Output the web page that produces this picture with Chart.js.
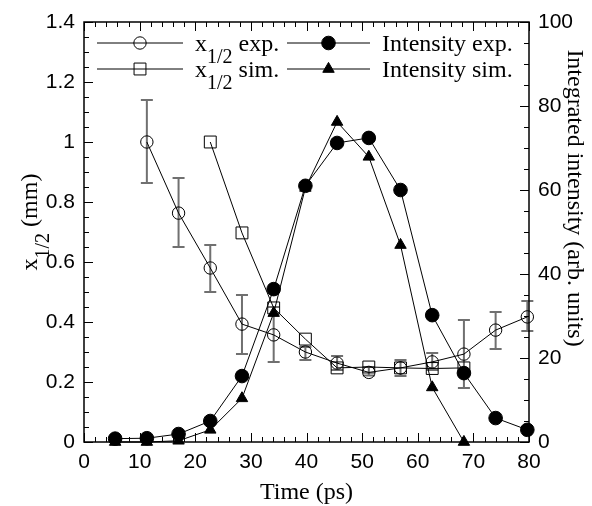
<!DOCTYPE html>
<html>
<head>
<meta charset="utf-8">
<script src="https://cdn.jsdelivr.net/npm/chart.js@4.4.1/dist/chart.umd.min.js"></script>
<style>
  html, body { margin: 0; padding: 0; background: #fff; }
  canvas { display: block; }
</style>
</head>
<body>
<canvas id="chart" width="592" height="506"></canvas>
<script>
// delay times (ps)
const times = [5.6, 11.3, 17.0, 22.7, 28.4, 34.1, 39.8, 45.5, 51.2, 56.9, 62.6, 68.3, 74.0, 79.7]

// x_1/2 (mm), left axis
const xHalfExp = [null, 1.00, 0.763, 0.58, 0.393, 0.357, 0.30, 0.263, 0.232, 0.247, 0.267, 0.293, 0.373, 0.417]
const xHalfErrLow = [null, 0.863, 0.65, 0.50, 0.293, 0.267, 0.273, 0.24, 0.222, 0.22, 0.24, 0.18, 0.31, 0.37]
const xHalfErrHigh = [null, 1.14, 0.88, 0.657, 0.49, 0.45, 0.317, 0.287, 0.25, 0.273, 0.297, 0.407, 0.433, 0.47]
const xHalfSim = [null, null, null, 1.00, 0.697, 0.447, 0.343, 0.247, 0.25, 0.247, 0.245, 0.247, null, null]

// integrated intensity (arb. units), right axis
const intensityExp = [0.8, 0.9, 1.9, 5.0, 15.7, 36.4, 61.0, 71.2, 72.4, 60.0, 30.2, 16.4, 5.7, 2.9]
const intensitySim = [0, 0, 0.3, 2.9, 10.4, 30.7, 60.5, 76.2, 67.9, 46.9, 13.0, 0, null, null]

const xTicks = [0, 10, 20, 30, 40, 50, 60, 70, 80]
const leftTicks = [0, 0.2, 0.4, 0.6, 0.8, 1, 1.2, 1.4]
const rightTicks = [0, 20, 40, 60, 80, 100]

const SERIF = '"Liberation Serif", "DejaVu Serif", serif'
const SANS = '"Liberation Sans", Arial, sans-serif'

const pts = arr => times.map((t, i) => ({ x: t, y: arr[i] })).filter(p => p.y !== null)

const series = (data, axis, style, radius, fill) => ({
  data: pts(data),
  yAxisID: axis,
  borderColor: '#000',
  borderWidth: 1,
  pointStyle: style,
  pointRadius: radius,
  pointBorderWidth: 1,
  pointBorderColor: '#000',
  pointBackgroundColor: fill,
  backgroundColor: fill,
  tension: 0,
  fill: false,
  clip: false
})

const datasets = [
  series(intensityExp, 'y2', 'circle', 6.8, '#000'),
  series(intensitySim, 'y2', 'triangle', 6.6, '#000'),
  series(xHalfExp, 'y', 'circle', 6.2, 'rgba(0,0,0,0)'),
  series(xHalfSim, 'y', 'rect', 8.4, 'rgba(0,0,0,0)')
]

// text with subscript parts, drawn left to right from (x, y)
const drawParts = (ctx, x, y, parts) => {
  let cx = x
  parts.forEach(p => {
    ctx.font = p.size + 'px ' + SERIF
    ctx.fillText(p.text, cx, y + (p.dy || 0))
    cx += ctx.measureText(p.text).width
  })
  return cx
}
const partsWidth = (ctx, parts) => parts.reduce((w, p) => {
  ctx.font = p.size + 'px ' + SERIF
  return w + ctx.measureText(p.text).width
}, 0)

const errorBars = {
  id: 'errorBars',
  beforeDatasetsDraw (chart) {
    const { ctx, scales: { x, y } } = chart
    ctx.save()
    ctx.strokeStyle = '#707070'
    ctx.lineWidth = 2
    times.forEach((t, i) => {
      if (xHalfErrLow[i] === null) return
      const px = x.getPixelForValue(t)
      const lo = y.getPixelForValue(xHalfErrLow[i])
      const hi = y.getPixelForValue(xHalfErrHigh[i])
      ctx.beginPath()
      ctx.moveTo(px, lo); ctx.lineTo(px, hi)
      ctx.moveTo(px - 6, lo); ctx.lineTo(px + 6, lo)
      ctx.moveTo(px - 6, hi); ctx.lineTo(px + 6, hi)
      ctx.stroke()
    })
    ctx.restore()
  }
}

const frame = {
  id: 'frame',
  afterDatasetsDraw (chart) {
    const { ctx, chartArea: a, scales: { x, y, y2 } } = chart
    ctx.save()
    ctx.strokeStyle = '#000'
    ctx.lineWidth = 1.5
    ctx.strokeRect(a.left, a.top, a.right - a.left, a.bottom - a.top)
    ctx.lineWidth = 1
    ctx.beginPath()
    for (let v = 0; v <= 80; v += 2) {
      const px = Math.round(x.getPixelForValue(v)) + 0.5
      const len = v % 10 === 0 ? 9 : 5
      ctx.moveTo(px, a.bottom); ctx.lineTo(px, a.bottom - len)
      ctx.moveTo(px, a.top); ctx.lineTo(px, a.top + len)
    }
    for (let i = 0; i <= 28; i++) {
      const py = Math.round(y.getPixelForValue(i * 0.05)) + 0.5
      const len = i % 4 === 0 ? 9 : 5
      ctx.moveTo(a.left, py); ctx.lineTo(a.left + len, py)
    }
    for (let v = 0; v <= 100; v += 5) {
      const py = Math.round(y2.getPixelForValue(v)) + 0.5
      const len = v % 20 === 0 ? 9 : 5
      ctx.moveTo(a.right, py); ctx.lineTo(a.right - len, py)
    }
    ctx.stroke()
    ctx.restore()
  }
}

const legendAndTitles = {
  id: 'legendAndTitles',
  afterDraw (chart) {
    const { ctx, chartArea: a } = chart
    ctx.save()
    ctx.fillStyle = '#000'
    ctx.textBaseline = 'alphabetic'
    ctx.textAlign = 'left'

    // legend: two rows, two columns
    const entries = [
      { ds: 2, col: 0, row: 0, parts: [{ text: 'x', size: 24 }, { text: '1/2', size: 20, dy: 12 }, { text: ' exp.', size: 24 }] },
      { ds: 3, col: 0, row: 1, parts: [{ text: 'x', size: 24 }, { text: '1/2', size: 20, dy: 12 }, { text: ' sim.', size: 24 }] },
      { ds: 0, col: 1, row: 0, parts: [{ text: 'Intensity exp.', size: 24 }] },
      { ds: 1, col: 1, row: 1, parts: [{ text: 'Intensity sim.', size: 24 }] }
    ]
    const cols = [{ x0: 97, x1: 183, text: 195 }, { x0: 287, x1: 370, text: 382 }]
    const rows = [{ line: 43, base: 51 }, { line: 69, base: 77 }]
    entries.forEach(e => {
      const ds = datasets[e.ds]
      const c = cols[e.col]
      const r = rows[e.row]
      ctx.strokeStyle = '#000'
      ctx.lineWidth = 1
      ctx.beginPath()
      ctx.moveTo(c.x0, r.line); ctx.lineTo(c.x1, r.line)
      ctx.stroke()
      ctx.fillStyle = ds.pointBackgroundColor
      Chart.helpers.drawPoint(ctx, {
        pointStyle: ds.pointStyle, radius: ds.pointRadius, borderWidth: 1, rotation: 0
      }, (c.x0 + c.x1) / 2, r.line)
      ctx.fillStyle = '#000'
      drawParts(ctx, c.text, r.base, e.parts)
    })

    // x axis title
    ctx.font = '24px ' + SERIF
    ctx.textAlign = 'center'
    ctx.fillText('Time (ps)', (a.left + a.right) / 2, 499)

    // left axis title with subscript, rotated
    const leftParts = [{ text: 'x', size: 24 }, { text: '1/2', size: 20, dy: 12 }, { text: ' (mm)', size: 24 }]
    ctx.textAlign = 'left'
    ctx.save()
    ctx.translate(37, (a.top + a.bottom) / 2 + partsWidth(ctx, leftParts) / 2 - 10)
    ctx.rotate(-Math.PI / 2)
    drawParts(ctx, 0, 0, leftParts)
    ctx.restore()

    // right axis title, reading downward
    ctx.save()
    ctx.translate(568, 198)
    ctx.rotate(Math.PI / 2)
    ctx.font = '24px ' + SERIF
    ctx.textAlign = 'center'
    ctx.fillText('Integrated intensity (arb. units)', 0, 0)
    ctx.restore()

    ctx.restore()
  }
}

const tickFont = { family: SANS, size: 21 }

new Chart(document.getElementById('chart'), {
  type: 'line',
  data: { datasets },
  options: {
    responsive: false,
    animation: false,
    events: [],
    layout: { padding: { top: 22, left: 0, right: 0, bottom: 0 } },
    plugins: { legend: { display: false }, tooltip: { enabled: false } },
    scales: {
      x: {
        type: 'linear',
        min: 0,
        max: 80,
        afterBuildTicks: s => { s.ticks = xTicks.map(v => ({ value: v })) },
        ticks: { font: tickFont, color: '#000', padding: 8, maxRotation: 0 },
        grid: { display: false, drawTicks: false },
        border: { display: false },
        afterFit: s => { s.height = 64 }
      },
      y: {
        position: 'left',
        min: 0,
        max: 1.4,
        afterBuildTicks: s => { s.ticks = leftTicks.map(v => ({ value: v })) },
        ticks: { font: tickFont, color: '#000', padding: 9, callback: v => String(+v.toFixed(1)) },
        grid: { display: false, drawTicks: false },
        border: { display: false },
        afterFit: s => { s.width = 84 }
      },
      y2: {
        position: 'right',
        min: 0,
        max: 100,
        afterBuildTicks: s => { s.ticks = rightTicks.map(v => ({ value: v })) },
        ticks: { font: tickFont, color: '#000', padding: 9 },
        grid: { display: false, drawTicks: false },
        border: { display: false },
        afterFit: s => { s.width = 63 }
      }
    }
  },
  plugins: [errorBars, frame, legendAndTitles]
})
</script>
</body>
</html>
